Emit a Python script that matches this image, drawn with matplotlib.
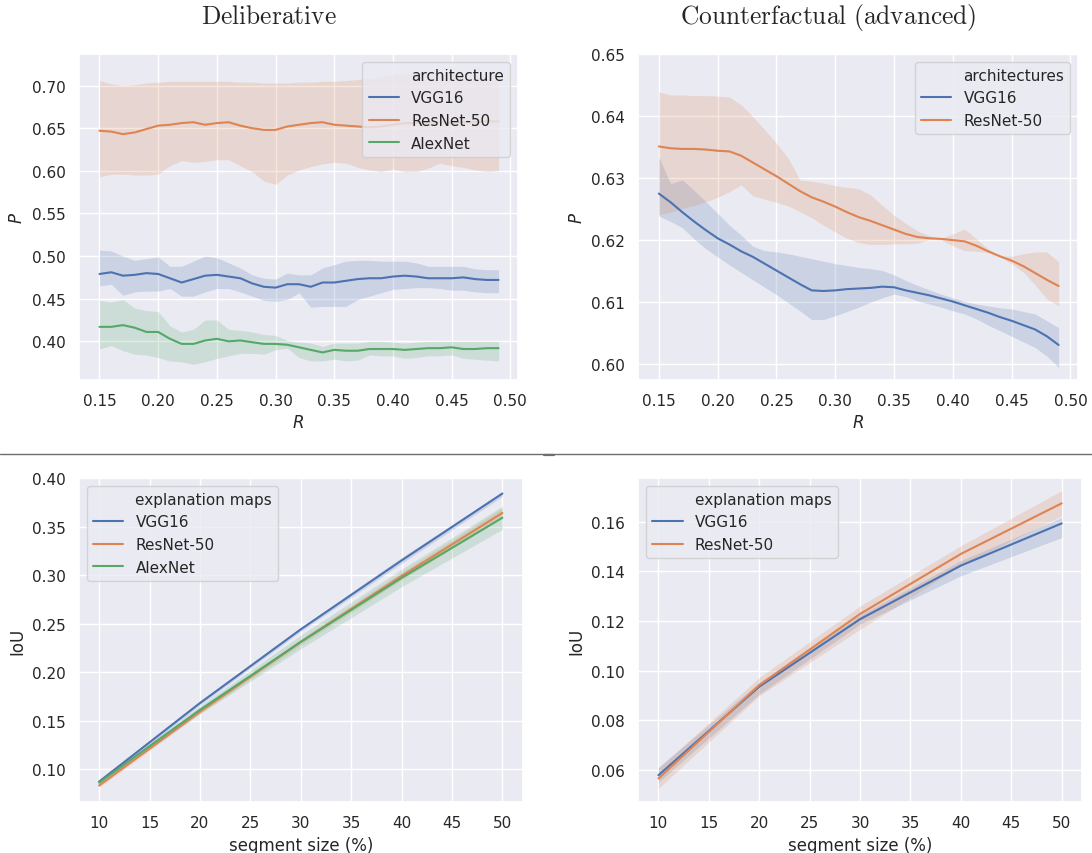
import matplotlib

matplotlib.use("Agg")
import matplotlib.pyplot as plt
import seaborn as sns
from matplotlib.lines import Line2D

# ---- data ----
R = [0.15, 0.16, 0.17, 0.18, 0.19, 0.20, 0.21, 0.22, 0.23, 0.24, 0.25, 0.26,
     0.27, 0.28, 0.29, 0.30, 0.31, 0.32, 0.33, 0.34, 0.35, 0.36, 0.37, 0.38,
     0.39, 0.40, 0.41, 0.42, 0.43, 0.44, 0.45, 0.46, 0.47, 0.48, 0.49]

# Deliberative
delib_vgg = [0.479, 0.481, 0.477, 0.478, 0.480, 0.479, 0.474, 0.469, 0.473, 0.477, 0.478, 0.476,
             0.474, 0.468, 0.464, 0.463, 0.467, 0.467, 0.464, 0.469, 0.469, 0.471, 0.473, 0.474,
             0.474, 0.476, 0.477, 0.476, 0.474, 0.474, 0.474, 0.475, 0.473, 0.472, 0.472]
delib_vgg_hi = [0.507, 0.506, 0.500, 0.495, 0.497, 0.499, 0.488, 0.488, 0.494, 0.500, 0.498, 0.492,
                0.486, 0.478, 0.474, 0.473, 0.480, 0.478, 0.478, 0.486, 0.490, 0.494, 0.495, 0.495,
                0.494, 0.494, 0.494, 0.492, 0.488, 0.488, 0.488, 0.488, 0.485, 0.484, 0.484]
delib_vgg_lo = [0.465, 0.467, 0.454, 0.458, 0.459, 0.459, 0.462, 0.453, 0.453, 0.458, 0.462, 0.462,
                0.458, 0.453, 0.448, 0.447, 0.449, 0.457, 0.440, 0.441, 0.441, 0.441, 0.449, 0.453,
                0.457, 0.461, 0.462, 0.463, 0.463, 0.462, 0.460, 0.460, 0.458, 0.457, 0.457]
delib_res = [0.647, 0.646, 0.643, 0.645, 0.649, 0.653, 0.654, 0.656, 0.657, 0.654, 0.656, 0.657,
             0.653, 0.650, 0.648, 0.648, 0.652, 0.654, 0.656, 0.657, 0.654, 0.653, 0.652, 0.651,
             0.652, 0.654, 0.656, 0.656, 0.657, 0.657, 0.656, 0.657, 0.657, 0.658, 0.658]
delib_res_hi = [0.706, 0.702, 0.700, 0.701, 0.703, 0.704, 0.705, 0.705, 0.705, 0.705, 0.705, 0.705,
                0.704, 0.704, 0.703, 0.703, 0.703, 0.704, 0.704, 0.705, 0.705, 0.706, 0.707, 0.708,
                0.710, 0.712, 0.714, 0.715, 0.716, 0.716, 0.715, 0.714, 0.713, 0.712, 0.712]
delib_res_lo = [0.593, 0.596, 0.596, 0.595, 0.595, 0.596, 0.606, 0.612, 0.610, 0.611, 0.613, 0.613,
                0.606, 0.599, 0.588, 0.584, 0.595, 0.601, 0.605, 0.608, 0.610, 0.609, 0.604, 0.601,
                0.599, 0.602, 0.599, 0.599, 0.603, 0.609, 0.606, 0.604, 0.601, 0.599, 0.600]
delib_alex = [0.417, 0.417, 0.419, 0.416, 0.411, 0.411, 0.403, 0.397, 0.397, 0.401, 0.403, 0.400,
              0.401, 0.399, 0.397, 0.397, 0.396, 0.393, 0.390, 0.387, 0.390, 0.389, 0.389, 0.391,
              0.391, 0.391, 0.390, 0.391, 0.392, 0.392, 0.393, 0.391, 0.391, 0.392, 0.392]
delib_alex_hi = [0.448, 0.446, 0.449, 0.439, 0.436, 0.435, 0.418, 0.411, 0.414, 0.425, 0.425, 0.414,
                 0.413, 0.411, 0.408, 0.407, 0.401, 0.399, 0.398, 0.394, 0.398, 0.398, 0.398, 0.400,
                 0.400, 0.399, 0.398, 0.399, 0.400, 0.400, 0.400, 0.400, 0.400, 0.400, 0.400]
delib_alex_lo = [0.391, 0.395, 0.389, 0.385, 0.384, 0.381, 0.377, 0.376, 0.373, 0.376, 0.380, 0.383,
                 0.386, 0.386, 0.385, 0.390, 0.392, 0.381, 0.377, 0.377, 0.379, 0.377, 0.378, 0.384,
                 0.383, 0.383, 0.380, 0.381, 0.383, 0.383, 0.384, 0.380, 0.379, 0.378, 0.377]

# Counterfactual (advanced)
cf_vgg = [0.6275, 0.6261, 0.6245, 0.6230, 0.6216, 0.6203, 0.6193, 0.6182, 0.6173, 0.6162, 0.6151, 0.6140,
          0.6129, 0.6119, 0.6118, 0.6119, 0.6121, 0.6122, 0.6123, 0.6125, 0.6124, 0.6119, 0.6115, 0.6111,
          0.6106, 0.6101, 0.6095, 0.6089, 0.6083, 0.6076, 0.6070, 0.6063, 0.6056, 0.6045, 0.6031]
cf_vgg_hi = [0.6334, 0.6291, 0.6297, 0.6280, 0.6262, 0.6243, 0.6224, 0.6208, 0.6190, 0.6183, 0.6181, 0.6178,
             0.6174, 0.6170, 0.6166, 0.6162, 0.6159, 0.6156, 0.6154, 0.6151, 0.6144, 0.6135, 0.6127, 0.6120,
             0.6113, 0.6107, 0.6101, 0.6097, 0.6094, 0.6091, 0.6089, 0.6085, 0.6081, 0.6070, 0.6059]
cf_vgg_lo = [0.6239, 0.6230, 0.6220, 0.6202, 0.6186, 0.6173, 0.6160, 0.6148, 0.6136, 0.6124, 0.6112, 0.6099,
             0.6086, 0.6072, 0.6072, 0.6078, 0.6085, 0.6092, 0.6100, 0.6107, 0.6113, 0.6109, 0.6102, 0.6097,
             0.6092, 0.6086, 0.6081, 0.6073, 0.6063, 0.6054, 0.6045, 0.6036, 0.6027, 0.6013, 0.5995]
cf_res = [0.6351, 0.6348, 0.6347, 0.6347, 0.6346, 0.6344, 0.6343, 0.6336, 0.6325, 0.6314, 0.6303, 0.6291,
          0.6279, 0.6269, 0.6262, 0.6254, 0.6245, 0.6237, 0.6231, 0.6224, 0.6217, 0.6210, 0.6205, 0.6203,
          0.6202, 0.6200, 0.6198, 0.6191, 0.6182, 0.6174, 0.6167, 0.6158, 0.6147, 0.6136, 0.6126]
cf_res_hi = [0.6439, 0.6434, 0.6434, 0.6433, 0.6433, 0.6432, 0.6431, 0.6418, 0.6399, 0.6378, 0.6356, 0.6332,
             0.6297, 0.6295, 0.6292, 0.6288, 0.6285, 0.6283, 0.6273, 0.6256, 0.6240, 0.6227, 0.6215, 0.6207,
             0.6203, 0.6210, 0.6218, 0.6202, 0.6186, 0.6174, 0.6174, 0.6178, 0.6181, 0.6181, 0.6165]
cf_res_lo = [0.6241, 0.6245, 0.6251, 0.6256, 0.6262, 0.6269, 0.6278, 0.6289, 0.6271, 0.6266, 0.6261, 0.6255,
             0.6246, 0.6236, 0.6224, 0.6213, 0.6203, 0.6196, 0.6193, 0.6193, 0.6194, 0.6194, 0.6195, 0.6201,
             0.6200, 0.6191, 0.6183, 0.6182, 0.6180, 0.6173, 0.6162, 0.6148, 0.6128, 0.6105, 0.6094]

# IoU vs segment size
segment = [10, 20, 30, 40, 50]
iou_vgg = [0.087, 0.168, 0.244, 0.315, 0.384]
iou_vgg_hi = [0.089, 0.170, 0.246, 0.318, 0.386]
iou_vgg_lo = [0.085, 0.166, 0.242, 0.312, 0.381]
iou_res = [0.083, 0.159, 0.231, 0.299, 0.364]
iou_res_hi = [0.085, 0.161, 0.234, 0.303, 0.369]
iou_res_lo = [0.081, 0.157, 0.228, 0.295, 0.359]
iou_alex = [0.086, 0.161, 0.231, 0.297, 0.359]
iou_alex_hi = [0.088, 0.165, 0.238, 0.306, 0.371]
iou_alex_lo = [0.084, 0.157, 0.224, 0.288, 0.347]

iou2_vgg = [0.0578, 0.0935, 0.1207, 0.1423, 0.1593]
iou2_vgg_hi = [0.0610, 0.0952, 0.1224, 0.1443, 0.1617]
iou2_vgg_lo = [0.0550, 0.0905, 0.1187, 0.1382, 0.1536]
iou2_res = [0.0565, 0.0941, 0.1228, 0.1470, 0.1674]
iou2_res_hi = [0.0607, 0.0972, 0.1260, 0.1503, 0.1725]
iou2_res_lo = [0.0525, 0.0898, 0.1166, 0.1423, 0.1624]

names3 = ["VGG16", "ResNet-50", "AlexNet"]
names2 = ["VGG16", "ResNet-50"]

sns.set_theme(style="darkgrid")
plt.rcParams["font.family"] = ["DejaVu Sans"]
colors = sns.color_palette("deep")


def draw(ax, x, series, legend_title, legend_loc):
    # seaborn-style legend: the hue name sits as a first entry with a blank handle
    handles = [Line2D([], [], linestyle="none")]
    labels = [legend_title]
    for i, (name, mean, lo, hi) in enumerate(series):
        line, = ax.plot(x, mean, color=colors[i], lw=1.5)
        ax.fill_between(x, lo, hi, color=colors[i], alpha=0.2, lw=0)
        handles.append(line)
        labels.append(name)
    ax.legend(handles, labels, loc=legend_loc, fontsize=11, handlelength=2.0)
    ax.tick_params(labelsize=11)


fig = plt.figure(figsize=(10.92, 8.54), dpi=100)
ax_tl = fig.add_axes([0.0723, 0.5542, 0.4020, 0.3814])
ax_tr = fig.add_axes([0.5845, 0.5542, 0.4027, 0.3814])
ax_bl = fig.add_axes([0.0723, 0.0597, 0.4062, 0.3794])
ax_br = fig.add_axes([0.5845, 0.0597, 0.4062, 0.3794])

draw(ax_tl, R, [(names3[0], delib_vgg, delib_vgg_lo, delib_vgg_hi),
                (names3[1], delib_res, delib_res_lo, delib_res_hi),
                (names3[2], delib_alex, delib_alex_lo, delib_alex_hi)],
     "architecture", "upper right")
ax_tl.set_xlim(0.1325, 0.5065)
ax_tl.set_ylim(0.355, 0.737)
ax_tl.set_xlabel("$R$", fontsize=12)
ax_tl.set_ylabel("$P$", fontsize=12)

draw(ax_tr, R, [(names2[0], cf_vgg, cf_vgg_lo, cf_vgg_hi),
                (names2[1], cf_res, cf_res_lo, cf_res_hi)],
     "architectures", "upper right")
ax_tr.set_xlim(0.1325, 0.5065)
ax_tr.set_ylim(0.5975, 0.650)
ax_tr.set_xlabel("$R$", fontsize=12)
ax_tr.set_ylabel("$P$", fontsize=12)

draw(ax_bl, segment, [(names3[0], iou_vgg, iou_vgg_lo, iou_vgg_hi),
                      (names3[1], iou_res, iou_res_lo, iou_res_hi),
                      (names3[2], iou_alex, iou_alex_lo, iou_alex_hi)],
     "explanation maps", "upper left")
ax_bl.set_xlim(8, 52)
ax_bl.set_ylim(0.066, 0.40)
ax_bl.set_xlabel("segment size (%)", fontsize=12)
ax_bl.set_ylabel("IoU", fontsize=12)

draw(ax_br, segment, [(names2[0], iou2_vgg, iou2_vgg_lo, iou2_vgg_hi),
                      (names2[1], iou2_res, iou2_res_lo, iou2_res_hi)],
     "explanation maps", "upper left")
ax_br.set_xlim(8, 52)
ax_br.set_ylim(0.047, 0.1776)
ax_br.set_xlabel("segment size (%)", fontsize=12)
ax_br.set_ylabel("IoU", fontsize=12)

# panel titles in Computer Modern, centred over each half of the page
fig.text(0.2465, 0.9715, r"$\mathrm{Deliberative}$", ha="center", va="baseline",
         fontsize=18.3, math_fontfamily="cm")
fig.text(0.7585, 0.9715, r"$\mathrm{Counterfactual\ (advanced)}$", ha="center", va="baseline",
         fontsize=18.3, math_fontfamily="cm")

# separator between the two rows
fig.add_artist(Line2D([0, 1], [0.4669, 0.4669], color="#6e6e6e", lw=1.0, transform=fig.transFigure))
fig.add_artist(Line2D([0.4985, 0.507], [0.4657, 0.4657], color="#6e6e6e", lw=1.6, transform=fig.transFigure))

fig.savefig("out.png", dpi=100)
